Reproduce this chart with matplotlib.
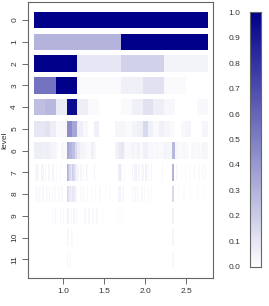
import numpy as np
import matplotlib
matplotlib.use("Agg")
import matplotlib.pyplot as plt
from matplotlib.colors import LinearSegmentedColormap

plt.rcParams['font.family'] = ['Liberation Sans', 'DejaVu Sans']
plt.rcParams['font.size'] = 6

# x range covered by the cells
x_start = 0.643
x_end = 2.761

# full levels, 2^level cells each
lvl0 = [1.0]
lvl1 = [0.30, 1.0]
lvl2 = [1.0, 0.10, 0.18, 0.05]
lvl3 = [0.55, 1.0, 0.02, 0.02, 0.06, 0.12, 0.02, 0.0]
lvl4 = [0.25, 0.28, 0.08, 0.95, 0.07, 0.02, 0.0, 0.0,
        0.02, 0.06, 0.12, 0.07, 0.03, 0.0, 0.0, 0.03]
lvl5 = [0.10, 0.10, 0.12, 0.07, 0.02, 0.03, 0.45, 0.35,
        0.07, 0.03, 0.0, 0.06, 0.0, 0.0, 0.0, 0.04,
        0.04, 0.02, 0.05, 0.06, 0.15, 0.06, 0.02, 0.06,
        0.04, 0.02, 0.0, 0.03, 0.04, 0.0, 0.0, 0.04]
lvl6 = [0.07, 0.07, 0.07, 0.06, 0.07, 0.07, 0.05, 0.04,
        0.02, 0.0, 0.03, 0.02, 0.35, 0.30, 0.25, 0.15,
        0.08, 0.05, 0.04, 0.02, 0.02, 0.06, 0.03, 0.0,
        0.0, 0.0, 0.0, 0.0, 0.0, 0.0, 0.05, 0.08,
        0.10, 0.03, 0.02, 0.03, 0.05, 0.03, 0.05, 0.02,
        0.06, 0.06, 0.03, 0.03, 0.02, 0.03, 0.02, 0.03,
        0.05, 0.04, 0.03, 0.28, 0.04, 0.02, 0.02, 0.03,
        0.02, 0.0, 0.03, 0.02, 0.03, 0.02, 0.04, 0.03]

# finer levels, read at 128-cell resolution, only the visible cells
lvl7 = {1: 0.04, 2: 0.04, 3: 0.03, 5: 0.05, 6: 0.04, 8: 0.03, 10: 0.04, 11: 0.03,
        13: 0.05, 14: 0.04, 16: 0.02, 19: 0.03,
        24: 0.30, 25: 0.25, 26: 0.15, 27: 0.10, 28: 0.20, 29: 0.15, 30: 0.08,
        31: 0.05, 32: 0.04, 34: 0.04, 36: 0.03, 38: 0.05, 39: 0.02, 44: 0.05,
        62: 0.06, 63: 0.08, 64: 0.05, 66: 0.03,
        72: 0.04, 74: 0.05, 75: 0.06, 77: 0.04, 79: 0.03, 80: 0.05, 82: 0.06,
        84: 0.03, 86: 0.04, 94: 0.03, 102: 0.30,
        105: 0.03, 108: 0.02, 111: 0.03, 114: 0.02, 118: 0.03, 121: 0.02,
        124: 0.02, 126: 0.03}
lvl8 = {1: 0.03, 3: 0.03, 4: 0.02, 6: 0.03, 9: 0.02, 11: 0.03, 13: 0.03, 15: 0.02,
        18: 0.02, 20: 0.02,
        24: 0.15, 25: 0.12, 26: 0.08, 27: 0.06, 28: 0.10, 29: 0.08, 30: 0.05, 31: 0.03,
        34: 0.02, 36: 0.03, 39: 0.02, 42: 0.02, 45: 0.03, 48: 0.02, 52: 0.02, 55: 0.02,
        62: 0.04, 63: 0.05, 65: 0.03,
        72: 0.03, 74: 0.03, 76: 0.04, 79: 0.03, 81: 0.02, 84: 0.03, 86: 0.02,
        102: 0.15, 106: 0.02, 110: 0.02, 115: 0.02, 120: 0.02, 125: 0.02}
lvl9 = {13: 0.03, 15: 0.03, 17: 0.02, 19: 0.03, 21: 0.02,
        24: 0.06, 25: 0.05, 27: 0.04, 29: 0.05, 31: 0.03,
        37: 0.03, 40: 0.03, 43: 0.02, 46: 0.03, 50: 0.02,
        62: 0.02, 64: 0.02, 102: 0.06}
lvl10 = {24: 0.04, 25: 0.03, 27: 0.03, 28: 0.02, 102: 0.04}
lvl11 = {24: 0.03, 26: 0.02, 102: 0.03}

full_levels = [lvl0, lvl1, lvl2, lvl3, lvl4, lvl5, lvl6]
sparse_levels = [lvl7, lvl8, lvl9, lvl10, lvl11]
fine_res = 128

cmap = LinearSegmentedColormap.from_list("wb", ["#FFFFFF", "#00008B"])

fig = plt.figure(figsize=(2.69, 3.06), dpi=100)
ax = fig.add_axes([0.104, 0.0915, 0.689, 0.902])

rows = [np.array(v, dtype=float) for v in full_levels]
for d in sparse_levels:
    r = np.zeros(fine_res)
    for k, v in d.items():
        r[k] = v
    rows.append(r)

h = 0.76
for lvl, vals in enumerate(rows):
    xe = np.linspace(x_start, x_end, len(vals) + 1)
    ye = [lvl - h / 2, lvl + h / 2]
    ax.pcolormesh(xe, ye, vals[np.newaxis, :], cmap=cmap, vmin=0, vmax=1,
                  shading="flat", antialiased=False, rasterized=True)

ax.set_xlim(0.569, 2.83)
ax.set_ylim(11.86, -0.83)
ax.set_xticks([1.0, 1.5, 2.0, 2.5])
ax.set_xticklabels(["1.0", "1.5", "2.0", "2.5"])
ax.set_yticks(range(12))
ax.set_yticklabels([str(i) for i in range(12)], rotation=90, va="center")
ax.set_ylabel("level", labelpad=2)
ax.tick_params(length=4, width=0.6, color="#555555", pad=3, labelcolor="#333333")
for s in ax.spines.values():
    s.set_color("#666666")
    s.set_linewidth(0.8)
ax.yaxis.label.set_color("#333333")

cax = fig.add_axes([0.929, 0.1285, 0.041, 0.831])
grad = np.linspace(0, 1, 256)[:, np.newaxis]
cax.imshow(grad, aspect="auto", cmap=cmap, origin="lower", extent=[0, 1, 0, 1])
cax.set_xticks([])
cax.yaxis.tick_left()
cax.set_yticks(np.linspace(0, 1, 11))
cax.set_yticklabels(["%.1f" % t for t in np.linspace(0, 1, 11)])
cax.tick_params(length=0, pad=7, labelcolor="#333333")
for s in cax.spines.values():
    s.set_color("#666666")
    s.set_linewidth(0.8)

fig.savefig("out.png", dpi=100)
